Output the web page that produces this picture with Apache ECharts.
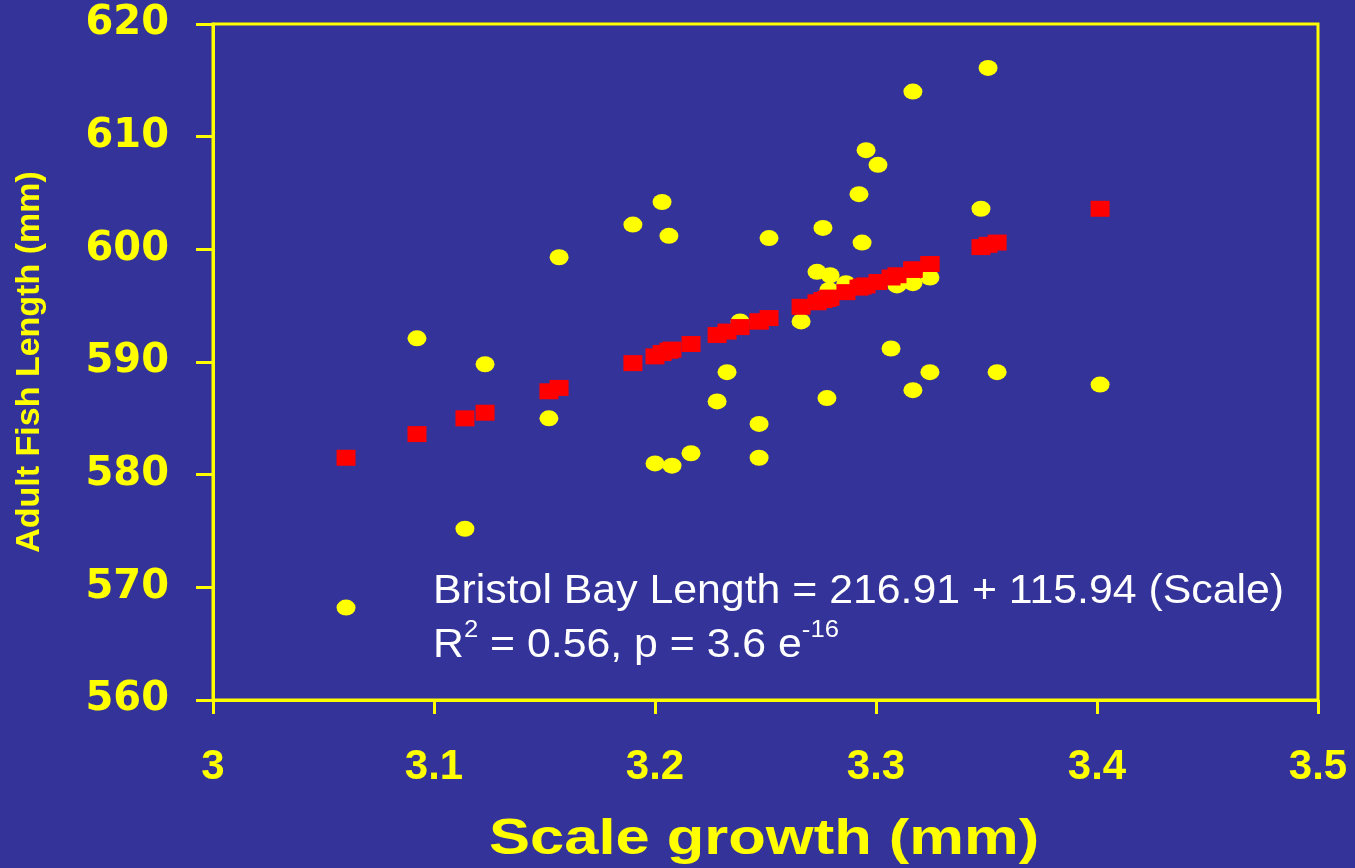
<!DOCTYPE html>
<html>
<head>
<meta charset="utf-8">
<script src="https://cdn.jsdelivr.net/npm/echarts@6/dist/echarts.min.js"></script>
<style>
html,body{margin:0;padding:0;background:#333399;}
#chart{width:1355px;height:868px;}
</style>
</head>
<body>
<div id="chart"></div>
<script>
// Observed data (scale growth mm, adult fish length mm)
var scaleX = [3.0602, 3.0923, 3.1140, 3.1231, 3.1520, 3.1566, 3.1900, 3.2000, 3.2032, 3.2063,
              3.2077, 3.2163, 3.2281, 3.2326, 3.2385, 3.2471, 3.2471, 3.2516, 3.2661, 3.2733,
              3.2760, 3.2778, 3.2792, 3.2787, 3.2864, 3.2923, 3.2937, 3.2955, 3.3009, 3.3068,
              3.3095, 3.3167, 3.3167, 3.3167, 3.3244, 3.3244, 3.3475, 3.3507, 3.3548, 3.4014];
var observedLength = [568.2, 592.1, 575.2, 589.8, 585.0, 599.3, 602.2, 581.0, 604.2, 601.2,
                      580.8, 581.9, 586.5, 589.1, 593.6, 584.5, 581.5, 601.0, 593.6, 598.0,
                      601.9, 586.8, 597.7, 596.4, 597.0, 604.9, 600.6, 608.8, 607.5, 591.2,
                      596.8, 614.0, 597.0, 587.5, 597.5, 589.1, 603.6, 616.1, 589.1, 588.0];
// Predicted (fitted) lengths at the same scale values
var predictedLength = [581.5, 583.6, 585.0, 585.5, 587.4, 587.7, 589.9, 590.5, 590.8, 591.0,
                       591.1, 591.6, 592.4, 592.7, 593.1, 593.6, 593.6, 593.9, 594.9, 595.3,
                       595.5, 595.6, 595.7, 595.7, 596.2, 596.6, 596.7, 596.8, 597.1, 597.5,
                       597.7, 598.2, 598.2, 598.2, 598.7, 598.7, 600.2, 600.4, 600.6, 603.6];
var xTicks = [3, 3.1, 3.2, 3.3, 3.4, 3.5];
var yTicks = [560, 570, 580, 590, 600, 610, 620];
var xTitle = 'Scale growth (mm)';
var yTitle = 'Adult Fish Length (mm)';

var obs = scaleX.map(function(x, i){ return [x, observedLength[i]]; });
var pred = scaleX.map(function(x, i){ return [x, predictedLength[i]]; });

var YEL = '#FFFF00';
var chart = echarts.init(document.getElementById('chart'));
chart.setOption({
  backgroundColor: '#333399',
  animation: false,
  grid: {left: 213, top: 24, right: 37, bottom: 168, show: true, borderColor: YEL, borderWidth: 3,
         backgroundColor: 'transparent', containLabel: false, outerBoundsMode: 'none'},
  xAxis: {
    type: 'value', min: xTicks[0], max: xTicks[xTicks.length-1], interval: 0.1,
    axisLine: {lineStyle: {color: YEL, width: 3}},
    axisTick: {show: true, length: 14, lineStyle: {color: YEL, width: 3}},
    splitLine: {show: false},
    axisLabel: {color: YEL, fontFamily: 'Liberation Sans', fontWeight: 'bold', fontSize: 42, margin: 46,
      formatter: function(v){ return String(Math.round(v*10)/10); }}
  },
  yAxis: {
    type: 'value', min: yTicks[0], max: yTicks[yTicks.length-1], interval: 10,
    axisLine: {lineStyle: {color: YEL, width: 3}},
    axisTick: {show: true, length: 17, lineStyle: {color: YEL, width: 3}},
    splitLine: {show: false},
    axisLabel: {color: YEL, fontFamily: 'DejaVu Sans', fontWeight: 'bold', fontSize: 40, margin: 44},
    name: yTitle, nameLocation: 'middle', nameGap: 166, nameRotate: 90,
    nameTextStyle: {color: YEL, fontFamily: 'Liberation Sans', fontWeight: 'bold', fontSize: 34}
  },
  series: [
    {type: 'scatter', data: obs, symbol: 'circle', symbolSize: [19, 16],
     itemStyle: {color: YEL, opacity: 1}, z: 2},
    {type: 'scatter', data: pred, symbol: 'rect', symbolSize: [19, 16],
     itemStyle: {color: '#FF0000', opacity: 1}, z: 3}
  ],
  graphic: [
    {type: 'text', left: 489, top: 815, z: 10, scaleX: 1.23,
     style: {text: xTitle, fill: YEL, font: 'bold 50px "Liberation Sans", Arial, sans-serif'}},
    {type: 'text', left: 433, top: 572, z: 10, scaleX: 1.07,
     style: {text: 'Bristol Bay Length = 216.91 + 115.94 (Scale)', fill: '#FFFFFF',
       font: '40px "Liberation Sans", Arial, sans-serif'}},
    {type: 'text', left: 433, top: 618, z: 10, scaleX: 1.07,
     style: {text: '{n|R}{s|2}{n| = 0.56, p = 3.6 e}{s|-16}', fill: '#FFFFFF',
       rich: {
         n: {fontFamily: 'Liberation Sans', fontSize: 40, color: '#FFFFFF', verticalAlign: 'bottom', lineHeight: 48},
         s: {fontFamily: 'Liberation Sans', fontSize: 24, color: '#FFFFFF', verticalAlign: 'top', lineHeight: 48, padding: [0,0,20,0]}
       }}}
  ]
});
</script>
</body>
</html>
